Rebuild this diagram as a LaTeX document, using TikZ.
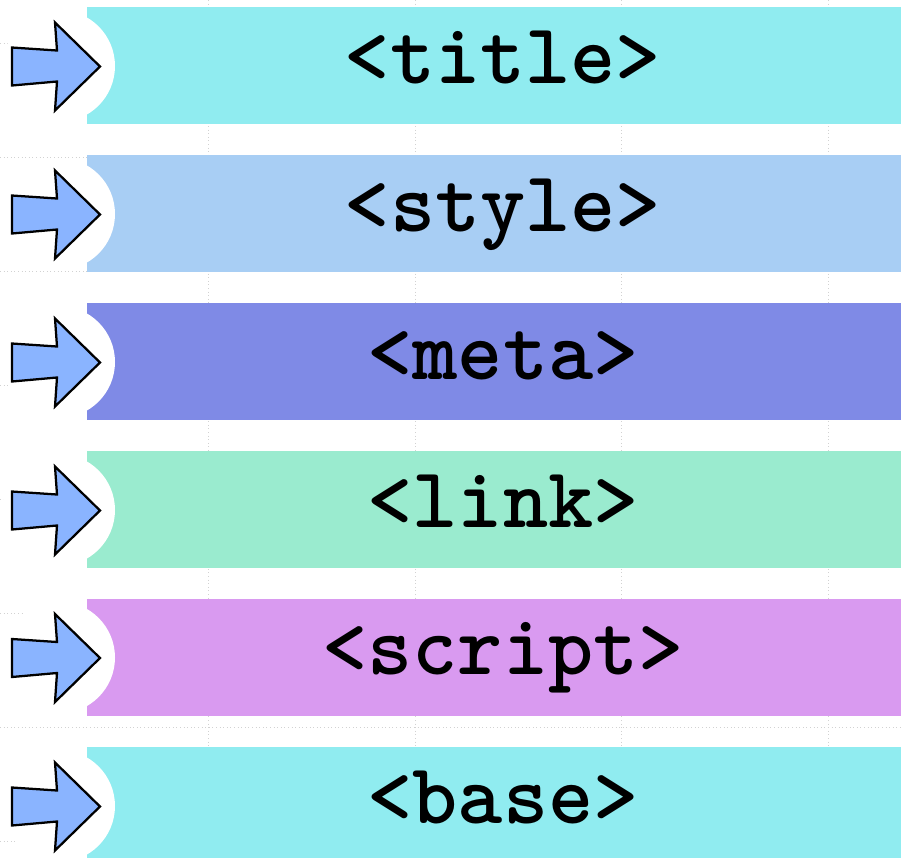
\documentclass[tikz,border=0pt]{standalone}
\usepackage{fontspec}

\definecolor{tagcyan}{HTML}{90ECF0}
\definecolor{tagsky}{HTML}{A8CEF4}
\definecolor{tagindigo}{HTML}{7F8AE6}
\definecolor{tagmint}{HTML}{9AEBCF}
\definecolor{tagorchid}{HTML}{D99AF0}
\definecolor{arrowblue}{HTML}{8AB4FF}

\tikzset{
    gridline/.style={gray!35, dotted, line width=0.7pt},
    tagarrow/.style={fill=arrowblue, draw=black, line width=1.7pt, line join=miter},
    taglabel/.style={anchor=base, inner sep=0pt, font=\ttfamily\bfseries\fontsize{64.5}{67}\selectfont}
}

\newcommand{\tagband}[4]{
    \begin{scope}[shift={(0,#1)}]
        % the coloured strip, with a round notch cut out at its left end
        \fill[#2] (87,-58.5) rectangle (919,58.5);
        \fill[white] (59,0.5) circle[radius=56];

        % the arrow pointing into the notch, and the tag name
        \draw[tagarrow] (12,-18) -- (57,-15) -- (55,-43) -- (100,1) -- (55,45) -- (57,16) -- (12,20) -- cycle;
        \node[taglabel] (#4) at (503,17.5) {#3};
    \end{scope}
}

\begin{document}
\begin{tikzpicture}[x=0.75pt, y=-0.75pt]
    \useasboundingbox (0,0) rectangle (901,858);

    % faint dotted grid underneath
    \foreach \gx in {208,415,621,828}
        \draw[gridline] (\gx,0) -- (\gx,858);
    \foreach \gy in {43,157,271,385,499,613,727,841}
        \draw[gridline] (0,\gy) -- (901,\gy);

    \tagband{65.5}{tagcyan}{<title>}{title}
    \tagband{213.5}{tagsky}{<style>}{style}
    \tagband{361.5}{tagindigo}{<meta>}{meta}
    \tagband{509.5}{tagmint}{<link>}{link}
    \tagband{657}{tagorchid}{<script>}{script}
    \tagband{805.5}{tagcyan}{<base>}{base}
\end{tikzpicture}
\end{document}
